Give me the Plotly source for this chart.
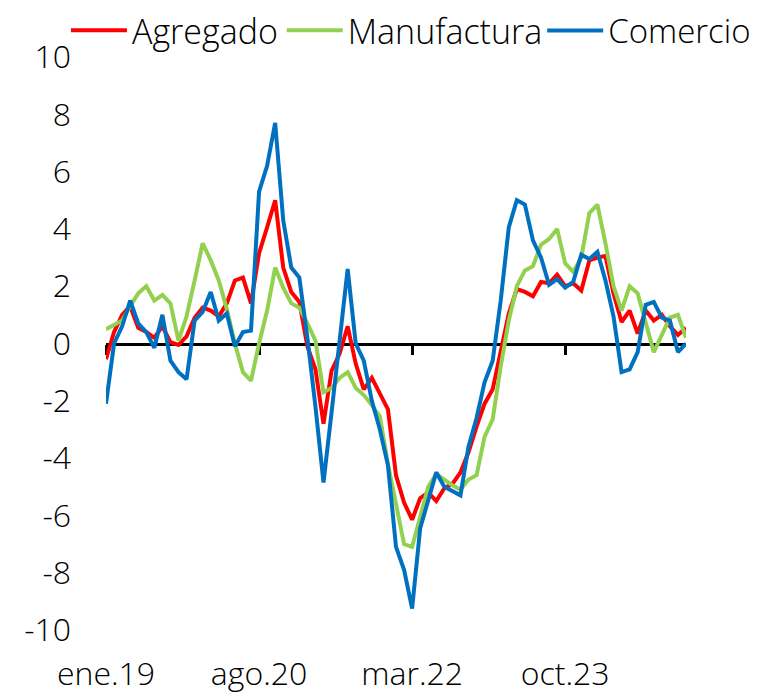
import plotly.graph_objects as go

meses = ["ene", "feb", "mar", "abr", "may", "jun", "jul", "ago", "sep", "oct", "nov", "dic"]
anios = ["19", "20", "21", "22", "23", "24", "25"]
categorias = [f"{m}.{a}" for a in anios for m in meses][:73]

agregado = [-0.55, 0.4, 1.0, 1.3, 0.55, 0.4, 0.2, 0.6, 0.05, -0.05, 0.25, 0.9,
            1.25, 1.15, 0.95, 1.4, 2.2, 2.3, 1.4, 3.15, 4.05, 5.0, 2.65, 1.8,
            1.45, -0.1, -0.9, -2.8, -0.95, -0.35, 0.6, -0.7, -1.6, -1.2, -1.75, -2.3,
            -4.6, -5.55, -6.15, -5.4, -5.2, -5.5, -5.05, -4.9, -4.5, -3.8, -2.9, -2.1,
            -1.6, -0.25, 1.05, 1.9, 1.8, 1.65, 2.15, 2.1, 2.4, 2.0, 2.1, 1.85,
            2.9, 3.0, 3.05, 1.75, 0.75, 1.15, 0.35, 1.15, 0.8, 1.0, 0.6, 0.3, 0.55]

manufactura = [0.5, 0.65, 0.8, 1.3, 1.75, 2.0, 1.5, 1.7, 1.4, 0.1, 0.95, 2.2,
               3.5, 2.9, 2.2, 1.2, 0.0, -1.0, -1.3, 0.0, 1.15, 2.65, 1.95, 1.4,
               1.25, 0.7, 0.1, -1.7, -1.55, -1.2, -1.0, -1.55, -1.8, -2.15, -2.55, -4.2,
               -5.6, -7.0, -7.1, -6.0, -5.0, -4.55, -4.75, -4.95, -5.1, -4.75, -4.6, -3.25,
               -2.65, -0.8, 0.8, 2.0, 2.55, 2.7, 3.45, 3.65, 4.0, 2.8, 2.5, 3.0,
               4.55, 4.85, 3.5, 2.0, 1.15, 2.0, 1.75, 0.7, -0.3, 0.3, 0.9, 1.0, 0.2]

comercio = [-2.1, 0.0, 0.6, 1.5, 0.7, 0.4, -0.15, 1.0, -0.6, -1.0, -1.25, 0.8,
            1.1, 1.8, 0.8, 1.05, -0.1, 0.4, 0.45, 5.3, 6.2, 7.7, 4.3, 2.65,
            2.3, 0.2, -2.2, -4.85, -2.4, 0.1, 2.6, 0.0, -0.6, -2.0, -3.0, -4.25,
            -7.1, -7.9, -9.25, -6.45, -5.5, -4.5, -5.0, -5.15, -5.3, -3.6, -2.6, -1.35,
            -0.6, 1.5, 4.05, 5.0, 4.85, 3.6, 3.0, 2.05, 2.25, 1.95, 2.15, 3.1,
            2.95, 3.2, 2.2, 0.95, -1.0, -0.9, -0.3, 1.35, 1.45, 0.9, 0.8, -0.3, 0.0]

x_ticks = ["ene.19", "ago.20", "mar.22", "oct.23"]
y_ticks = [-10, -8, -6, -4, -2, 0, 2, 4, 6, 8, 10]
y_labels = ["-10", "-8", "-6", "-4", "-2", "0", "2", "4", "6", "8", "10"]

FONT = "Open Sans"
FS = 32
LFS = 34

fig = go.Figure()
fig.add_trace(go.Scatter(x=categorias, y=agregado, name="Agregado", mode="lines",
                         line=dict(color="#FF0000", width=4), xaxis="x", yaxis="y",
                         legend="legend"))
fig.add_trace(go.Scatter(x=categorias, y=manufactura, name="Manufactura", mode="lines",
                         line=dict(color="#92D050", width=4), xaxis="x2", yaxis="y",
                         legend="legend2"))
fig.add_trace(go.Scatter(x=categorias, y=comercio, name="Comercio", mode="lines",
                         line=dict(color="#0070C0", width=4), xaxis="x2", yaxis="y",
                         legend="legend3"))


def leg(xpos, size=LFS):
    return dict(orientation="h", x=xpos, xanchor="left", y=1.046, yanchor="middle",
                font=dict(family=FONT, size=size, color="black", weight=300),
                bgcolor="rgba(0,0,0,0)", itemwidth=56, tracegroupgap=0)


fig.update_layout(
    width=767, height=695,
    margin=dict(l=98, r=89, t=49, b=73, autoexpand=False),
    paper_bgcolor="white", plot_bgcolor="white",
    font=dict(family=FONT, size=FS, color="black", weight=300),
    showlegend=True,
    legend=leg(-0.069),
    legend2=leg(0.303),
    legend3=leg(0.752, 33),
    xaxis=dict(type="category", range=[0, 72], showline=False, showgrid=False, zeroline=False,
               automargin=False,
               tickmode="array", tickvals=x_ticks, ticktext=x_ticks, ticks="",
               ticklabelstandoff=22, tickfont=dict(family=FONT, size=FS, weight=300)),
    xaxis2=dict(type="category", matches="x", overlaying="x", anchor="free", position=0.5,
                automargin=False,
                showline=True, linecolor="black", linewidth=2.5, showgrid=False, zeroline=False,
                tickmode="array", tickvals=x_ticks, ticks="outside", ticklen=10, tickwidth=2.5,
                tickcolor="black", showticklabels=False, layer="below traces"),
    yaxis=dict(range=[-10, 10], showline=False, showgrid=False, zeroline=False,
               automargin=False,
               tickmode="array", tickvals=y_ticks, ticktext=y_labels, ticks="",
               ticklabelstandoff=34, tickfont=dict(family=FONT, size=FS, weight=300)),
)

fig.write_html("out.html")
